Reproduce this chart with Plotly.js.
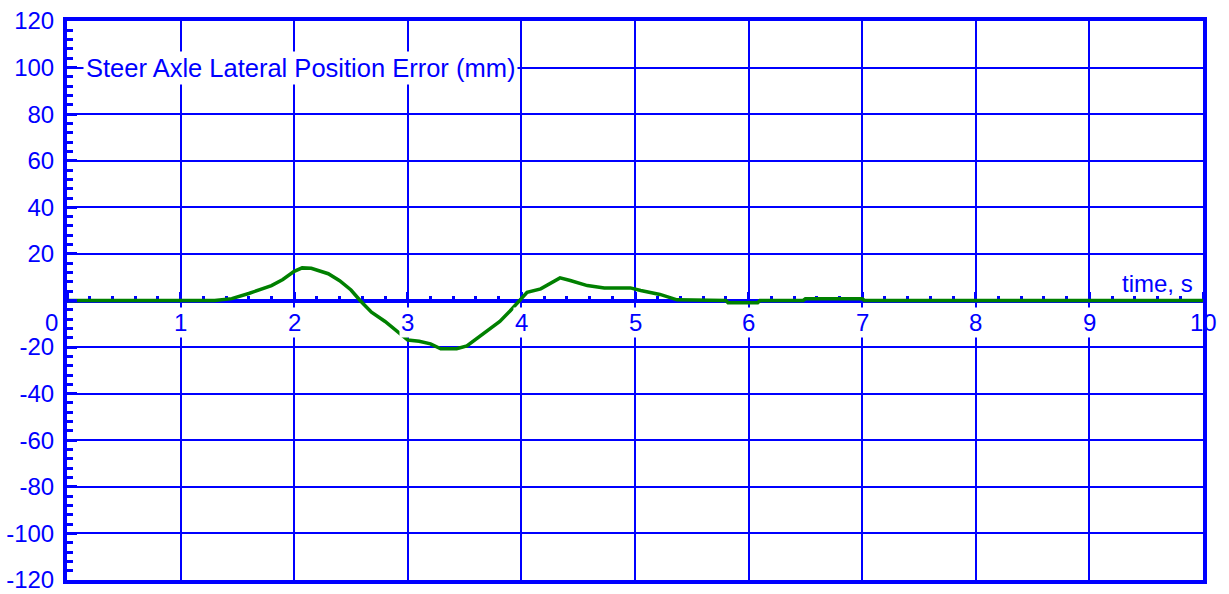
<!DOCTYPE html>
<html><head><meta charset="utf-8">
<script src="https://cdn.plot.ly/plotly-3.0.1.min.js"></script>
<style>html,body{margin:0;padding:0;background:#fff;}</style>
</head><body><div id="chart" style="width:1229px;height:594px;"></div>
<script>
const timeS = [0, 1.3, 1.45, 1.6, 1.8, 1.9, 2.0, 2.07, 2.15, 2.3, 2.4, 2.5, 2.58, 2.68, 2.8, 2.93, 3.0, 3.1, 3.2, 3.29, 3.43, 3.52, 3.67, 3.81, 3.9, 3.97, 4.05, 4.17, 4.26, 4.34, 4.43, 4.58, 4.73, 4.96, 5.05, 5.22, 5.37, 5.8, 5.82, 6.08, 6.1, 6.48, 6.5, 7.0, 7.02, 10];
const errorMm = [0, 0, 0.8, 3, 6.4, 9, 12.5, 14, 13.8, 11.5, 8.5, 4.5, 0, -5, -9, -14, -17, -17.5, -18.6, -20.7, -20.7, -19.5, -14, -9, -4.5, -0.5, 3.5, 5, 7.5, 9.7, 8.6, 6.4, 5.4, 5.4, 4.3, 2.6, 0.3, 0, -1, -1, 0, 0, 0.7, 0.7, 0, 0];
const yTicks = [-120, -100, -80, -60, -40, -20, 0, 20, 40, 60, 80, 100, 120];
const yTickText = ['-120', '-100', '-80', '-60', '-40', '-20', '', '20', '40', '60', '80', '100', '120'];
const xTickLabels = ['1', '2', '3', '4', '5', '6', '7', '8', '9', '10'];
const xTickVals = [1, 2, 3, 4, 5, 6, 7, 8, 9, 10];
const chartTitle = 'Steer Axle Lateral Position Error (mm)';
const xTitle = 'time, s';

const BLUE = '#0000FF';
const FONT = 'Liberation Sans, Arial, sans-serif';
const FS = 24;

const annotations = [];
xTickVals.forEach((v, i) => {
  annotations.push({
    x: v, y: -9.5, xref: 'x', yref: 'y', text: xTickLabels[i], showarrow: false,
    xanchor: 'center', yanchor: 'middle', font: {family: FONT, size: FS, color: BLUE},
    bgcolor: v === 10 ? 'rgba(0,0,0,0)' : '#FFFFFF', borderpad: 1
  });
});
annotations.push({
  x: 0, y: -9.5, xref: 'paper', yref: 'y', text: '0', showarrow: false,
  xanchor: 'right', yanchor: 'middle', xshift: -7, font: {family: FONT, size: FS, color: BLUE}
});
annotations.push({
  x: 0, y: 100, xref: 'paper', yref: 'y', text: chartTitle, showarrow: false,
  xanchor: 'left', yanchor: 'middle', xshift: 16, font: {family: FONT, size: 25.5, color: BLUE},
  bgcolor: '#FFFFFF', borderpad: 2
});
annotations.push({
  x: 1, y: 0, xref: 'paper', yref: 'y', text: xTitle, showarrow: false,
  xanchor: 'right', yanchor: 'bottom', xshift: -8, yshift: 2, font: {family: FONT, size: FS, color: BLUE}
});

const data = [{
  x: timeS, y: errorMm, type: 'scatter', mode: 'lines',
  line: {color: '#008000', width: 3.5}, hoverinfo: 'skip'
}, {
  x: timeS, y: errorMm, xaxis: 'x2', type: 'scatter', mode: 'lines',
  line: {color: 'rgba(0,0,0,0)', width: 0}, hoverinfo: 'skip', showlegend: false
}];

const layout = {
  width: 1229, height: 594,
  margin: {l: 67, r: 26, t: 21, b: 14},
  paper_bgcolor: '#FFFFFF', plot_bgcolor: '#FFFFFF',
  showlegend: false,
  xaxis: {
    range: [0, 10], showgrid: true, dtick: 1, tick0: 0, gridcolor: BLUE, gridwidth: 2,
    showticklabels: false, ticks: '', zeroline: false,
    showline: true, linecolor: BLUE, linewidth: 4, mirror: true
  },
  xaxis2: {
    range: [0, 10], overlaying: 'x', anchor: 'free', position: 0.5, side: 'top',
    showgrid: false, zeroline: false, showticklabels: false,
    showline: true, linecolor: BLUE, linewidth: 4, layer: 'below traces',
    ticks: 'outside', ticklen: 7, tickwidth: 3, tickcolor: BLUE, dtick: 1, tick0: 0,
    minor: {ticks: 'outside', dtick: 0.2, tick0: 0, ticklen: 3, tickwidth: 3, tickcolor: BLUE, showgrid: false}
  },
  yaxis: {
    range: [-120, 120], tickmode: 'array', tickvals: yTicks, ticktext: yTickText,
    showgrid: true, gridcolor: BLUE, gridwidth: 2, zeroline: false,
    showline: true, linecolor: BLUE, linewidth: 4, mirror: true,
    ticks: 'inside', ticklen: 10, tickwidth: 3, tickcolor: BLUE,
    ticklabelstandoff: 4,
    tickfont: {family: FONT, size: FS, color: BLUE},
    minor: {ticks: 'inside', tickmode: 'linear', tick0: -120, dtick: 4, ticklen: 6, tickwidth: 3, tickcolor: BLUE, showgrid: false}
  },
  annotations: annotations
};

Plotly.newPlot('chart', data, layout, {displayModeBar: false, staticPlot: true});
</script>
</body></html>
